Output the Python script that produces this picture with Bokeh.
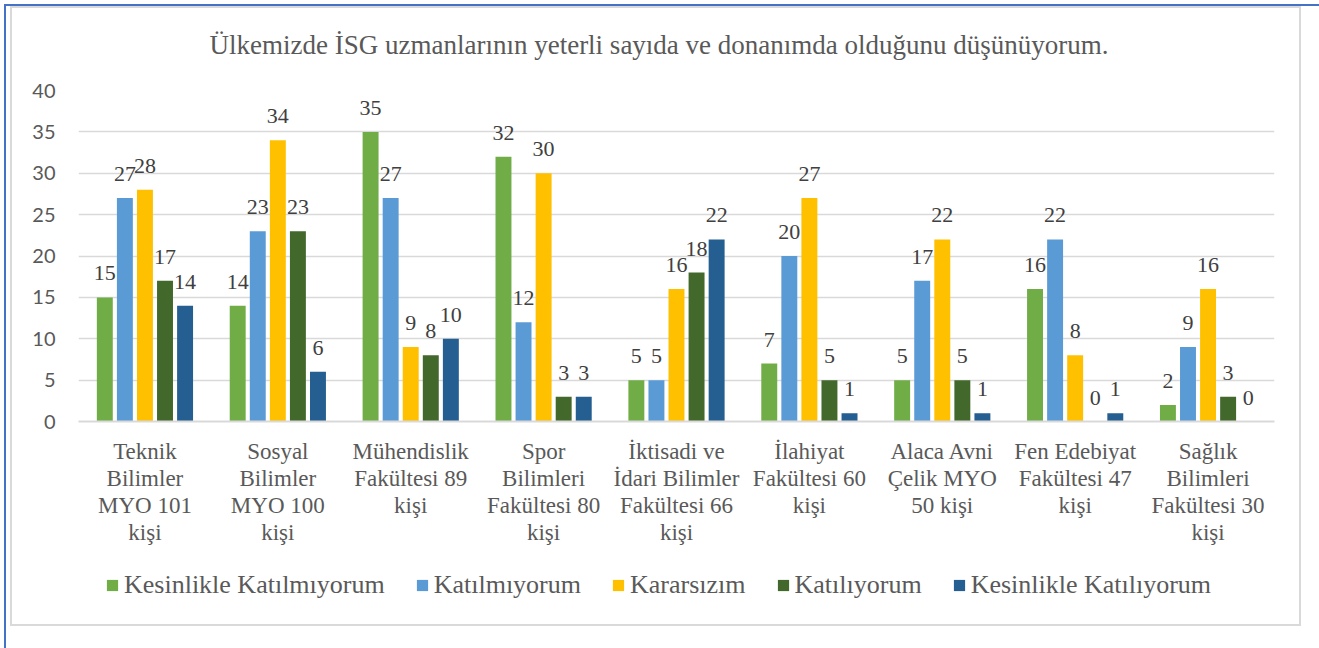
from bokeh.plotting import figure
from bokeh.models import ColumnDataSource, Range1d, FixedTicker, Legend, LabelSet, Title, Grid
from bokeh.transform import dodge
from bokeh.layouts import column
from bokeh.embed import file_html
from bokeh.resources import INLINE

title_text = "Ülkemizde İSG uzmanlarının yeterli sayıda ve donanımda olduğunu düşünüyorum."

categories = [
    "Teknik\nBilimler\nMYO 101\nkişi",
    "Sosyal\nBilimler\nMYO 100\nkişi",
    "Mühendislik\nFakültesi 89\nkişi",
    "Spor\nBilimleri\nFakültesi 80\nkişi",
    "İktisadi ve\nİdari Bilimler\nFakültesi 66\nkişi",
    "İlahiyat\nFakültesi 60\nkişi",
    "Alaca Avni\nÇelik MYO\n50 kişi",
    "Fen Edebiyat\nFakültesi 47\nkişi",
    "Sağlık\nBilimleri\nFakültesi 30\nkişi",
]

series_names = ["Kesinlikle Katılmıyorum", "Katılmıyorum", "Kararsızım", "Katılıyorum", "Kesinlikle Katılıyorum"]

kesinlikle_katilmiyorum = [15, 14, 35, 32, 5, 7, 5, 16, 2]
katilmiyorum = [27, 23, 27, 12, 5, 20, 17, 22, 9]
kararsizim = [28, 34, 9, 30, 16, 27, 22, 8, 16]
katiliyorum = [17, 23, 8, 3, 18, 5, 5, 0, 3]
kesinlikle_katiliyorum = [14, 6, 10, 3, 22, 1, 1, 1, 0]

y_ticks = [0, 5, 10, 15, 20, 25, 30, 35, 40]

series_values = [kesinlikle_katilmiyorum, katilmiyorum, kararsizim, katiliyorum, kesinlikle_katiliyorum]
colors = ["#70AD47", "#5B9BD5", "#FFC000", "#43682B", "#255E91"]
offsets = [-0.302, -0.151, 0.0, 0.151, 0.302]

GRAY = "#D9D9D9"
BORDER = f"2px solid {GRAY}"

# header strip carrying the chart title
hf = figure(width=1291, height=64, output_backend="svg", toolbar_location=None,
            x_range=Range1d(0, 1), y_range=Range1d(0, 1),
            x_axis_location=None, y_axis_location=None,
            min_border_left=0, min_border_right=0, min_border_top=56, min_border_bottom=0,
            background_fill_color="white", border_fill_color="white")
hf.outline_line_color = None
hf.center = [r for r in hf.center if not isinstance(r, Grid)]
hf.styles = {"border-top": BORDER, "border-left": BORDER, "border-right": BORDER}
hf.title = Title(text=title_text, align="left", text_font="Liberation Serif",
                 text_font_size="27px", text_font_style="normal", text_color="#595959",
                 offset=131, standoff=10)

p = figure(
    x_range=categories, y_range=Range1d(0, 40),
    width=1291, height=490, output_backend="svg", toolbar_location=None,
    min_border_left=66, min_border_right=29, min_border_top=20, min_border_bottom=139,
    background_fill_color="white", border_fill_color="white",
)
p.outline_line_color = None
p.styles = {"border-left": BORDER, "border-right": BORDER}

sources = []
for name, vals, col, off in zip(series_names, series_values, colors, offsets):
    src = ColumnDataSource(dict(cats=categories, val=vals, txt=[str(v) for v in vals]))
    sources.append(src)
    p.vbar(x=dodge("cats", off, range=p.x_range), top="val", width=0.12, source=src,
           fill_color=col, line_color=None)
    labels = LabelSet(x=dodge("cats", off, range=p.x_range), y="val", text="txt", source=src,
                      text_align="center", text_baseline="bottom", y_offset=17,
                      text_font="Liberation Serif", text_font_size="22px", text_color="#404040")
    p.add_layout(labels)

p.yaxis.ticker = FixedTicker(ticks=y_ticks)
p.yaxis.axis_line_color = None
p.yaxis.major_tick_line_color = None
p.yaxis.minor_tick_line_color = None
p.yaxis.major_label_standoff = 17
p.yaxis.major_label_text_font = "Lato"
p.yaxis.major_label_text_font_size = "20px"
p.yaxis.major_label_text_color = "#595959"

p.xaxis.axis_line_color = GRAY
p.xaxis.axis_line_width = 2
p.xaxis.major_tick_line_color = None
p.xaxis.minor_tick_line_color = None
p.xaxis.major_label_standoff = 11
p.xaxis.major_label_text_font = "Liberation Serif"
p.xaxis.major_label_text_font_size = "23px"
p.xaxis.major_label_text_line_height = 1.08
p.xaxis.major_label_text_color = "#595959"

p.xgrid.grid_line_color = None
p.ygrid.grid_line_color = GRAY
p.ygrid.grid_line_width = 1.5

# legend strip: a second figure whose zero-width, off-range bars carry the legend swatches
lf = figure(width=1291, height=66, output_backend="svg", toolbar_location=None,
            x_range=categories, y_range=Range1d(-2, -1),
            x_axis_location=None, y_axis_location=None,
            min_border_left=0, min_border_right=0, min_border_top=0, min_border_bottom=0,
            background_fill_color="white", border_fill_color="white")
lf.outline_line_color = None
lf.center = [r for r in lf.center if not isinstance(r, Grid)]
lf.styles = {"border-bottom": BORDER, "border-left": BORDER, "border-right": BORDER}

items = []
for name, col, src in zip(series_names, colors, sources):
    r = lf.vbar(x="cats", top="val", width=0.0, source=src, fill_color=col, line_color=None)
    items.append((name, [r]))

legend = Legend(items=items, orientation="horizontal",
                location=(27, 26), padding=0, margin=0, spacing=30,
                glyph_width=14, glyph_height=14, label_standoff=5,
                label_text_font="Liberation Serif", label_text_font_size="26px",
                label_text_color="#595959", border_line_color=None, background_fill_alpha=0)
lf.add_layout(legend, "center")

layout = column(hf, p, lf, spacing=0,
                styles={"border": "2px solid #4472C4", "padding": "0px 22px 30px 4px",
                        "margin": "4px 0px 0px 4px"})

open("out.html", "w").write(file_html(layout, INLINE))
